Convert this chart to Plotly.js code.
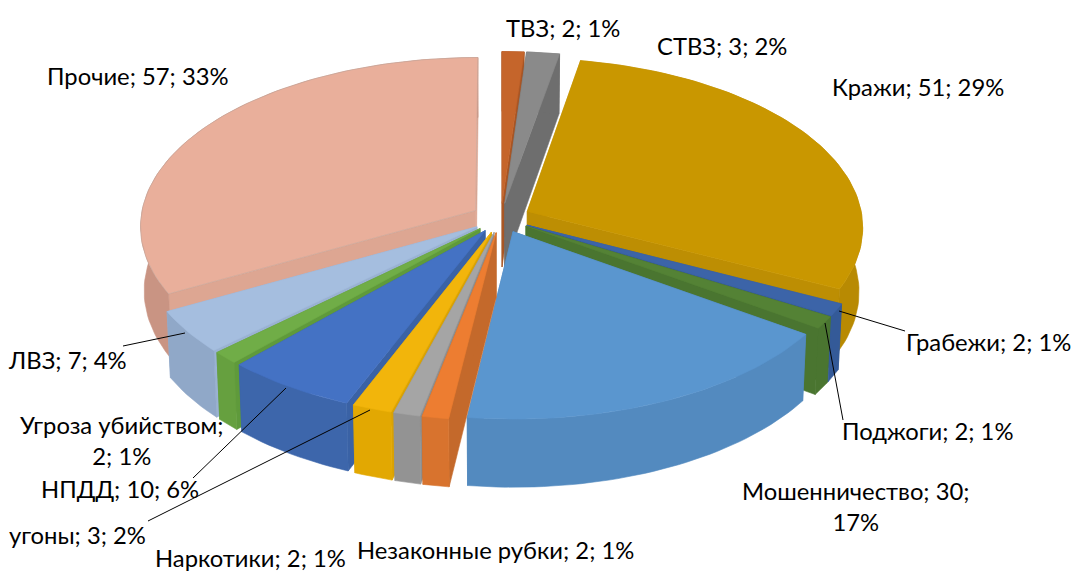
<!DOCTYPE html>
<html><head><meta charset="utf-8">
<script src="https://cdn.plot.ly/plotly-3.0.1.min.js"></script>
<style>html,body{margin:0;padding:0;background:#fff}#c{width:1074px;height:571px}</style>
</head><body><div id="c"></div>
<script>
const categories = ['ТВЗ','СТВЗ','Кражи','Грабежи','Поджоги','Мошенничество','Незаконные рубки','Наркотики','угоны','НПДД','Угроза убийством','ЛВЗ','Прочие'];
const values = [2,3,51,2,2,30,2,2,3,10,2,7,57];
const topColors = ['#C5652B','#8A8A8A','#C99700','#3C64A8','#548235','#5A96CF','#ED7D31','#A5A5A5','#F2B50B','#4472C4','#70AD47','#A5BEDF','#E9AF9B'];
const outerColors = ['#A85524','#6E6E6E','#B88A02','#345A98','#4A7530','#538ABF','#D8732E','#939393','#E2A802','#3D66AB','#66A03F','#90A8C8','#C99483'];
const cutColors = ['#A85524','#6E6E6E','#BD8E03','#345A98','#4A7530','#4F85B8','#C4692B','#8E8E8E','#D9A203','#3A62A5','#5F9A3B','#9AB2D2','#DDA692'];
const labelBreak = {'Мошенничество':'Мошенничество; 30;<br>17%','Угроза убийством':'Угроза убийством;<br>2; 1%'};
const labelPos = [[563,28],[722,46],[918,87],[988,342],[927,431],[856,506],[495,550],[250,558],[77,535],[120,489],[122,440],[67,360],[138,76]];
const leaders = [[839,311,905,331],[825,323,843,420],[185,333,123,346],[286,388,193,478],[370,410,148,521]];

// 3D projection of the pie
const CX=501, CY=218, RX=335, RY=168, K=0.09, EXPLODE=0.088, DEPTH=64;
const total = values.reduce((a,b)=>a+b,0);
const rad = d => d*Math.PI/180;
function project(u,v,down){
  const s = 1/(1+K*v);
  let x = CX + RX*u*s, y = CY - RY*v*s;
  if(down){ x = CX + (x-CX)*0.99; y += DEPTH*(1-0.06*v); }
  return [x,y];
}
function poly(pts,color,line,name){
  return {type:'scatter',mode:'lines',x:pts.map(p=>p[0]),y:pts.map(p=>p[1]),fill:'toself',fillcolor:color,
    line:{color:line||color,width:0.6},showlegend:false,name:name,hoverinfo:'name'};
}
let cum=0;
const slices = values.map((val,i)=>{
  const a0=cum/total*360; cum+=val; const a1=cum/total*360;
  return {i,val,a0,a1,mid:(a0+a1)/2};
});
slices.sort((p,q)=>Math.cos(rad(q.mid))-Math.cos(rad(p.mid)));
const traces=[];
slices.forEach(sl=>{
  const ox=EXPLODE*Math.sin(rad(sl.mid)), oy=EXPLODE*Math.cos(rad(sl.mid));
  const pt=(a,down)=>project(ox+Math.sin(rad(a)),oy+Math.cos(rad(a)),down);
  const tip=d=>project(ox,oy,d);
  const n=Math.max(4,Math.ceil((sl.a1-sl.a0)/1.5));
  const arc=[];for(let j=0;j<=n;j++)arc.push(sl.a0+(sl.a1-sl.a0)*j/n);
  const name=categories[sl.i]+': '+sl.val;
  traces.push(poly([tip(false),pt(sl.a0,false),pt(sl.a0,true),tip(true),tip(false)],cutColors[sl.i],null,name));
  traces.push(poly([tip(false),pt(sl.a1,false),pt(sl.a1,true),tip(true),tip(false)],cutColors[sl.i],null,name));
  const top=arc.map(a=>pt(a,false));
  const bot=arc.map(a=>pt(a,true)).reverse();
  traces.push(poly(top.concat(bot,[top[0]]),outerColors[sl.i],null,name));
  const edge = categories[sl.i]==='Прочие' ? '#C4A69B' : null;
  traces.push(poly([tip(false)].concat(top,[tip(false)]),topColors[sl.i],edge,name));
});

const annotations = categories.map((c,i)=>({
  x:labelPos[i][0],y:labelPos[i][1],xref:'x',yref:'y',showarrow:false,xanchor:'center',yanchor:'middle',
  text: labelBreak[c] || (c+'; '+values[i]+'; '+Math.round(values[i]/total*100)+'%'),
  font:{family:'Lato, "Open Sans", sans-serif',size:23.8,color:'#000'}
}));
const shapes = leaders.map(l=>({type:'line',xref:'x',yref:'y',x0:l[0],y0:l[1],x1:l[2],y1:l[3],line:{color:'#000',width:1}}));
const axis={visible:false,fixedrange:true};
Plotly.newPlot('c',traces,{
  width:1074,height:571,margin:{l:0,r:0,t:0,b:0},paper_bgcolor:'#fff',plot_bgcolor:'#fff',showlegend:false,
  xaxis:Object.assign({range:[0,1074]},axis),yaxis:Object.assign({range:[571,0]},axis),
  annotations,shapes
},{displayModeBar:false,staticPlot:true});
</script></body></html>
